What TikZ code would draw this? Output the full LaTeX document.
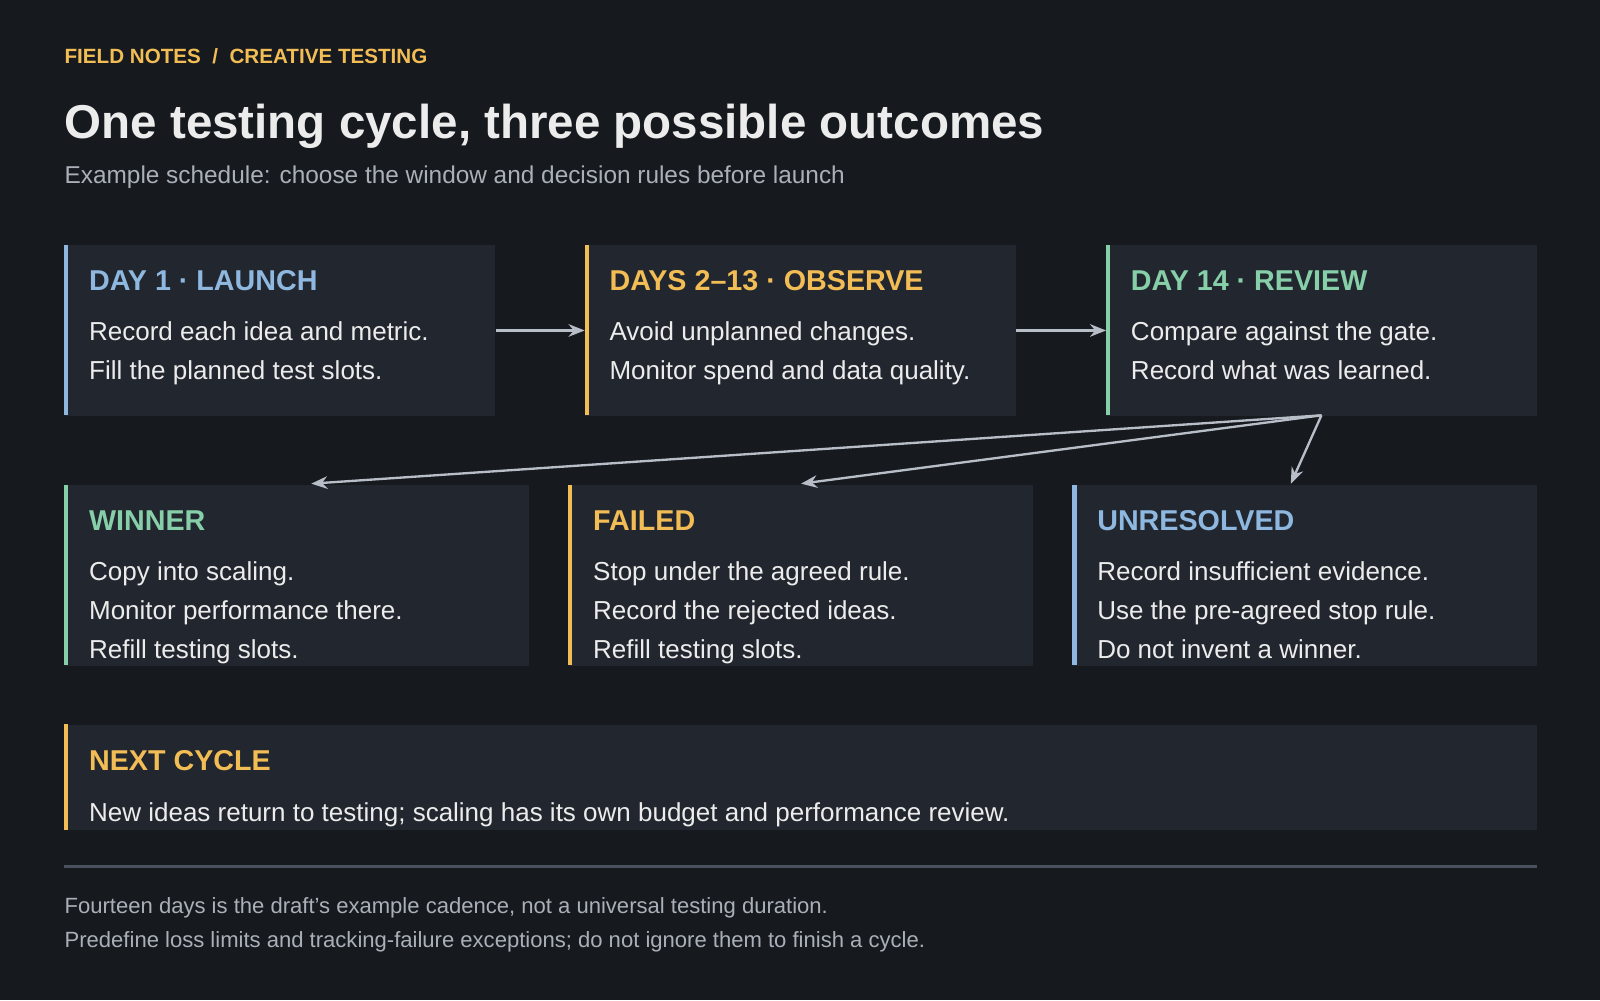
\documentclass[tikz,border=0pt]{standalone}
\usepackage{fontspec}
\setmainfont{Liberation Sans}
\usetikzlibrary{arrows.meta}
\definecolor{bg}{HTML}{16191E}
\definecolor{card}{HTML}{22272F}
\definecolor{cblue}{HTML}{8FB8E0}
\definecolor{corange}{HTML}{F2BD55}
\definecolor{cgreen}{HTML}{86CFA8}
\definecolor{ctext}{HTML}{ECECEC}
\definecolor{cgrey}{HTML}{AAB0B8}
\definecolor{cline}{HTML}{4A515C}
\definecolor{carrow}{HTML}{B8BEC8}
\begin{document}
\begin{tikzpicture}[x=0.02cm,y=-0.02cm,
  box/.style={fill=card,draw=none,inner sep=0,anchor=north west},
  head/.style={anchor=base west,font=\fontsize{16}{19}\selectfont\bfseries,inner sep=0},
  body/.style={anchor=base west,font=\fontsize{14.5}{17}\selectfont,text=ctext,inner sep=0},
  foot/.style={anchor=base west,font=\fontsize{12.3}{15}\selectfont,text=cgrey,inner sep=0},
  arr/.style={draw=carrow,line width=1.3pt,-{Stealth[length=9pt,width=7pt]}}]
\fill[bg] (0,0) rectangle (1568,980);
\useasboundingbox (0,0) rectangle (1568,980);
\node[anchor=base west,inner sep=0,text=corange,font=\fontsize{11.5}{14}\selectfont\bfseries] (tag) at (63,62) {FIELD NOTES \ / \ CREATIVE TESTING};
\node[anchor=base west,inner sep=0,text=ctext,font=\fontsize{26.5}{30}\selectfont\bfseries] (title) at (63,136) {One testing cycle, three possible outcomes};
\node[anchor=base west,inner sep=0,text=cgrey,font=\fontsize{13.6}{16}\selectfont] (sub) at (63,180) {Example schedule: choose the window and decision rules before launch};
% top row
\newcommand{\card}[6]{\node[box,minimum width=#4*0.02cm,minimum height=#5*0.02cm] (#1) at (#2,#3) {};
 \fill[#6] (#2,#3) rectangle ++(4,#5);}
\card{b1}{63}{240}{422}{167}{cblue}
\card{b2}{573}{240}{422}{167}{corange}
\card{b3}{1084}{240}{422}{167}{cgreen}
\node[head,text=cblue] (h1) at (87,285) {DAY 1 · LAUNCH};
\node[body] (t1a) at (87,334) {Record each idea and metric.};
\node[body] (t1b) at (87,372) {Fill the planned test slots.};
\node[head,text=corange] (h2) at (597,285) {DAYS 2–13 · OBSERVE};
\node[body] (t2a) at (597,334) {Avoid unplanned changes.};
\node[body] (t2b) at (597,372) {Monitor spend and data quality.};
\node[head,text=cgreen] (h3) at (1108,285) {DAY 14 · REVIEW};
\node[body] (t3a) at (1108,334) {Compare against the gate.};
\node[body] (t3b) at (1108,372) {Record what was learned.};
% middle row
\card{m1}{63}{475}{455}{177}{cgreen}
\card{m2}{557}{475}{455}{177}{corange}
\card{m3}{1051}{475}{455}{177}{cblue}
\node[head,text=cgreen] (g1) at (87,520) {WINNER};
\node[body] (u1a) at (87,569) {Copy into scaling.};
\node[body] (u1b) at (87,607) {Monitor performance there.};
\node[body] (u1c) at (87,645) {Refill testing slots.};
\node[head,text=corange] (g2) at (581,520) {FAILED};
\node[body] (u2a) at (581,569) {Stop under the agreed rule.};
\node[body] (u2b) at (581,607) {Record the rejected ideas.};
\node[body] (u2c) at (581,645) {Refill testing slots.};
\node[head,text=cblue] (g3) at (1075,520) {UNRESOLVED};
\node[body] (u3a) at (1075,569) {Record insufficient evidence.};
\node[body] (u3b) at (1075,607) {Use the pre-agreed stop rule.};
\node[body] (u3c) at (1075,645) {Do not invent a winner.};
% next cycle
\card{nx}{63}{710}{1443}{103}{corange}
\node[head,text=corange] (nh) at (87,755) {NEXT CYCLE};
\node[body] (nt) at (87,805) {New ideas return to testing; scaling has its own budget and performance review.};
% connectors
\draw[arr] (b1.east) -- (b2.west);
\draw[arr] (b2.east) -- (b3.west);
\coordinate (fan) at (1295,407);
\coordinate (e1) at (305,474);
\coordinate (e2) at (785,474);
\coordinate (e3) at (1265,474);
\draw[arr] (fan) -- (e1);
\draw[arr] (fan) -- (e2);
\draw[arr] (fan) -- (e3);
% footer
\draw[cline,line width=1.5pt] (63,849) coordinate (l1) -- (1506,849) coordinate (l2);
\node[foot] (f1) at (63,895) {Fourteen days is the draft’s example cadence, not a universal testing duration.};
\node[foot] (f2) at (63,929) {Predefine loss limits and tracking-failure exceptions; do not ignore them to finish a cycle.};
\end{tikzpicture}
\end{document}
